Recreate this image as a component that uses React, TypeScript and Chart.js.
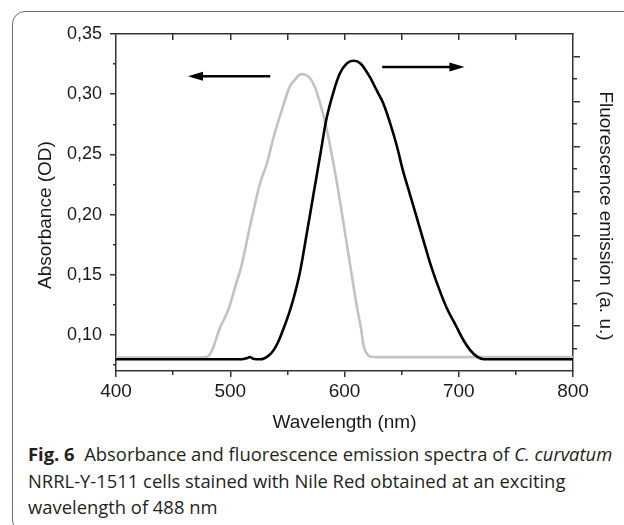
import { useEffect, useRef } from "react";
import { Chart, registerables } from "chart.js";

Chart.register(...registerables);

// absorbance spectrum (grey), OD
const absWavelength = [400, 470, 480, 484, 491, 498, 505, 510, 517, 526, 532, 538, 546, 552, 557, 562, 566, 570, 574, 577, 584, 593, 602, 611, 614, 617, 620, 623, 630, 800];
const absValue = [0.0811, 0.0811, 0.0818, 0.087, 0.106, 0.12, 0.142, 0.158, 0.189, 0.2256, 0.2422, 0.2644, 0.2894, 0.3061, 0.3125, 0.3167, 0.316, 0.3131, 0.306, 0.2978, 0.2728, 0.2283, 0.1756, 0.1228, 0.108, 0.09, 0.084, 0.0818, 0.0815, 0.0815];

// fluorescence emission (black), a.u.
const fluWavelength = [400, 510, 515, 517, 520, 526, 530, 534, 538, 542, 546, 550, 555, 561, 567, 573, 579, 584, 590, 596, 602, 608, 614, 622, 628, 634, 640, 646, 651, 657, 663, 669, 675, 681, 689, 698, 704, 710, 716, 722, 800];
const fluValue = [0.52, 0.52, 0.58, 0.62, 0.55, 0.52, 0.57, 0.7, 0.93, 1.3, 1.8, 2.35, 3.16, 4.4, 6.13, 7.91, 9.69, 11.17, 12.36, 13.25, 13.69, 13.81, 13.69, 13.1, 12.51, 11.91, 11.02, 9.98, 8.95, 7.91, 6.87, 5.83, 4.79, 3.9, 2.86, 1.97, 1.38, 0.93, 0.64, 0.52, 0.52];

// ticks
const wlMajor = [400, 500, 600, 700, 800];
const wlMinor = [450, 550, 650, 750];
const wlTop = [450, 500, 550, 600, 650, 700, 750];
const odMajor = [0.1, 0.15, 0.2, 0.25, 0.3, 0.35];
const odMinor = [0.075, 0.125, 0.175, 0.225, 0.275, 0.325];
const auMajor = [2, 4, 6, 8, 10, 12, 14];
const auMinor = [1, 3, 5, 7, 9, 11, 13];

// direction arrows (wavelength from -> to, at OD level)
const arrows = [
  { from: 535, to: 463, od: 0.315 },
  { from: 633, to: 705, od: 0.3225 },
];

const FONT = "'Liberation Sans', Arial, sans-serif";
const AXIS = "#333";
const TEXT = "#1a1a1a";

const setTicks = (vals: number[]) => (s: any) => {
  s.ticks = vals.map(value => ({ value }));
};

const extras = {
  id: "extras",
  afterDraw(chart: any) {
    const { ctx, scales } = chart;
    ctx.save();
    ctx.fillStyle = TEXT;
    ctx.font = `19px ${FONT}`;
    ctx.textAlign = "center";
    ctx.textBaseline = "middle";
    ctx.save();
    ctx.translate(46, 215);
    ctx.rotate(-Math.PI / 2);
    ctx.fillText("Absorbance (OD)", 0, 0);
    ctx.restore();
    ctx.save();
    ctx.translate(605, 216);
    ctx.rotate(Math.PI / 2);
    ctx.fillText("Fluorescence emission (a. u.)", 0, 0);
    ctx.restore();

    ctx.strokeStyle = "#000";
    ctx.fillStyle = "#000";
    ctx.lineWidth = 2.5;
    arrows.forEach(a => {
      const x1 = scales.x.getPixelForValue(a.from);
      const x2 = scales.x.getPixelForValue(a.to);
      const y = scales.y.getPixelForValue(a.od);
      const dir = Math.sign(x2 - x1);
      ctx.beginPath();
      ctx.moveTo(x1, y);
      ctx.lineTo(x2 - dir * 12, y);
      ctx.stroke();
      ctx.beginPath();
      ctx.moveTo(x2, y);
      ctx.lineTo(x2 - dir * 15, y - 4.5);
      ctx.lineTo(x2 - dir * 15, y + 4.5);
      ctx.closePath();
      ctx.fill();
    });
    ctx.restore();
  },
};

export default function App() {
  const canvasRef = useRef<HTMLCanvasElement>(null);

  useEffect(() => {
    if (!canvasRef.current) return;
    const minorGrid = (len: number) => ({ drawOnChartArea: false, tickLength: len, color: AXIS, lineWidth: 1.5 });
    const chart = new Chart(canvasRef.current, {
      type: "line",
      data: {
        datasets: [
          {
            label: "Fluorescence emission",
            data: fluWavelength.map((x, i) => ({ x, y: fluValue[i] })),
            yAxisID: "y2",
            borderColor: "#000",
            borderWidth: 2.6,
            pointRadius: 0,
            cubicInterpolationMode: "monotone",
            order: 0,
          },
          {
            label: "Absorbance",
            data: absWavelength.map((x, i) => ({ x, y: absValue[i] })),
            yAxisID: "y",
            borderColor: "#c2c2c2",
            borderWidth: 2.6,
            pointRadius: 0,
            cubicInterpolationMode: "monotone",
            order: 1,
          },
        ],
      },
      options: {
        animation: false,
        responsive: true,
        maintainAspectRatio: false,
        layout: { padding: 0 },
        plugins: { legend: { display: false }, tooltip: { enabled: false } },
        scales: {
          x: {
            type: "linear",
            position: "bottom",
            weight: 1,
            min: 400,
            max: 800,
            afterBuildTicks: setTicks(wlMajor),
            afterFit: (s: any) => { s.height = 69; },
            ticks: { color: TEXT, font: { family: FONT, size: 19 }, padding: 3, maxRotation: 0, autoSkip: false, callback: (v: any) => String(v) },
            grid: { drawOnChartArea: false, tickLength: 6, color: AXIS, lineWidth: 1.5 },
            border: { color: AXIS, width: 1.5 },
            title: { display: true, text: "Wavelength (nm)", color: TEXT, font: { family: FONT, size: 19 }, padding: { top: 0, bottom: 6 } },
          },
          xMinor: {
            type: "linear",
            position: "bottom",
            weight: 0,
            min: 400,
            max: 800,
            afterBuildTicks: setTicks(wlMinor),
            afterFit: (s: any) => { s.height = 0; },
            ticks: { display: false },
            grid: minorGrid(4),
            border: { display: false },
          },
          xTop: {
            type: "linear",
            position: "top",
            min: 400,
            max: 800,
            afterBuildTicks: setTicks(wlTop),
            afterFit: (s: any) => { s.height = 34; },
            ticks: { display: false },
            grid: minorGrid(-6),
            border: { color: AXIS, width: 1.5 },
          },
          y: {
            type: "linear",
            position: "left",
            weight: 1,
            min: 0.07,
            max: 0.35,
            afterBuildTicks: setTicks(odMajor),
            afterFit: (s: any) => { s.width = 116; },
            ticks: { color: TEXT, font: { family: FONT, size: 18 }, padding: 8, callback: (v: any) => Number(v).toFixed(2).replace(".", ",") },
            grid: { drawOnChartArea: false, tickLength: 6, color: AXIS, lineWidth: 1.5 },
            border: { color: AXIS, width: 1.5 },
          },
          yMinor: {
            type: "linear",
            position: "left",
            weight: 0,
            min: 0.07,
            max: 0.35,
            afterBuildTicks: setTicks(odMinor),
            afterFit: (s: any) => { s.width = 0; },
            ticks: { display: false },
            grid: minorGrid(3),
            border: { display: false },
          },
          y2: {
            type: "linear",
            position: "right",
            weight: 1,
            min: 0,
            max: 15,
            afterBuildTicks: setTicks(auMajor),
            afterFit: (s: any) => { s.width = 51; },
            ticks: { display: false },
            grid: { drawOnChartArea: false, tickLength: 7, color: AXIS, lineWidth: 1.5 },
            border: { color: AXIS, width: 1.5 },
          },
          y2Minor: {
            type: "linear",
            position: "right",
            weight: 0,
            min: 0,
            max: 15,
            afterBuildTicks: setTicks(auMinor),
            afterFit: (s: any) => { s.width = 0; },
            ticks: { display: false },
            grid: minorGrid(4),
            border: { display: false },
          },
        },
      } as any,
      plugins: [extras],
    });
    return () => chart.destroy();
  }, []);

  return (
    <div style={{ position: "fixed", left: 0, top: 0, width: 624, height: 525, overflow: "hidden", background: "#fff" }}>
      <div style={{ position: "absolute", left: 12, top: 11, width: 660, height: 520, border: "1.5px solid #6b6b6b", borderRadius: 13 }} />
      <div style={{ position: "absolute", left: 0, top: 0, width: 624, height: 440 }}>
        <canvas ref={canvasRef} />
      </div>
      <div
        style={{
          position: "absolute",
          left: 28,
          top: 441,
          fontFamily: "'Open Sans', 'Noto Sans', sans-serif",
          fontSize: 18.4,
          lineHeight: "26.7px",
          color: "#231f20",
          whiteSpace: "nowrap",
        }}
      >
        <b>Fig. 6</b>&nbsp;&nbsp;Absorbance and fluorescence emission spectra of <i>C. curvatum</i>
        <br />
        NRRL-Y-1511 cells stained with Nile Red obtained at an exciting
        <br />
        wavelength of 488 nm
      </div>
    </div>
  );
}
